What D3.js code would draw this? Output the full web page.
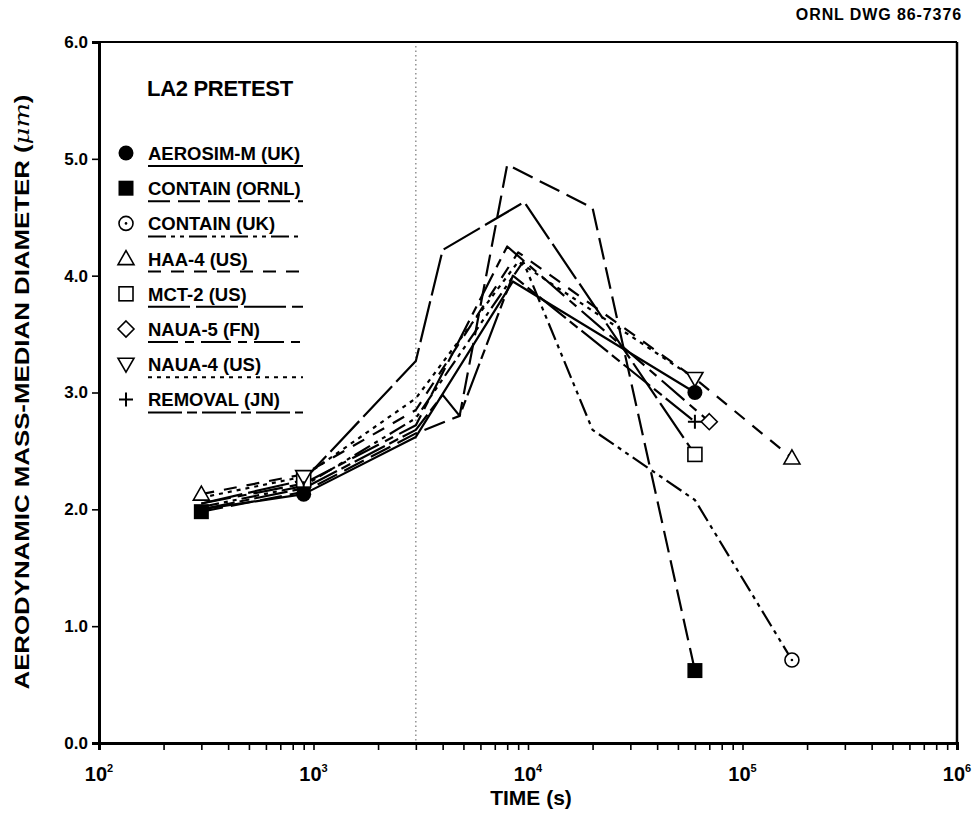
<!DOCTYPE html>
<html><head><meta charset="utf-8">
<script src="https://cdn.jsdelivr.net/npm/d3@7"></script>
<style>
body{margin:0;background:#fff;}
svg{display:block;font-family:"Liberation Sans",Arial,sans-serif;font-weight:bold;}
</style></head>
<body><svg id="c" width="975" height="816"></svg>
<script>
// ---- data ----
const seriesNames = ["AEROSIM-M (UK)","CONTAIN (ORNL)","CONTAIN (UK)","HAA-4 (US)","MCT-2 (US)","NAUA-5 (FN)","NAUA-4 (US)","REMOVAL (JN)"];
const aerosimT  = [300, 900, 3000, 8500, 60000];
const aerosimV  = [2.0, 2.13, 2.62, 3.95, 3.0];
const containOrnlT = [300, 900, 3000, 4800, 8000, 20000, 60000];
const containOrnlV = [1.98, 2.15, 2.65, 2.8, 4.95, 4.58, 0.62];
const containUkT = [300, 900, 3000, 9500, 20000, 60000, 170000];
const containUkV = [2.02, 2.2, 2.78, 4.12, 2.68, 2.08, 0.71];
const haaT = [300, 900, 3000, 9000, 60000, 170000];
const haaV = [2.13, 2.3, 2.85, 4.2, 3.12, 2.44];
const mctT = [300, 900, 3000, 4000, 9600, 60000];
const mctV = [2.05, 2.25, 3.27, 4.22, 4.63, 2.47];
const naua5T = [300, 900, 3000, 8000, 70000];
const naua5V = [2.05, 2.22, 2.72, 4.25, 2.75];
const naua4T = [300, 900, 3000, 9000, 60000];
const naua4V = [2.1, 2.28, 2.95, 4.12, 3.12];
const removalT = [300, 900, 3000, 4000, 4800, 8500, 60000];
const removalV = [2.0, 2.18, 2.68, 2.98, 2.8, 4.0, 2.75];
// indices of points that carry a marker
const markerIdx = [[1,4],[0,6],[6],[0,5],[1,5],[4],[1,4],[1,6]];
const yTicks = [0,1,2,3,4,5,6];
const xDecades = [2,3,4,5,6];
const refTime = 3000;

// ---- styles ----
const dashes = ["", "22,8", "18,5,4,5,4,5", "13,10", "42,6", "30,7,9,7", "4,5", "34,5,10,5"];
const markerTypes = ["fcircle","fsquare","ocircle","triangle","osquare","diamond","itriangle","plus"];

const svg = d3.select("#c");
const L=99, R=957, T=42, B=743;
const x = d3.scaleLog().domain([100,1e6]).range([L,R]);
const y = d3.scaleLinear().domain([0,6]).range([B,T]);

const allT=[aerosimT,containOrnlT,containUkT,haaT,mctT,naua5T,naua4T,removalT];
const allV=[aerosimV,containOrnlV,containUkV,haaV,mctV,naua5V,naua4V,removalV];

// dotted reference line
svg.append("line").attr("x1",x(refTime)).attr("x2",x(refTime)).attr("y1",T+4).attr("y2",B)
  .attr("stroke","#777").attr("stroke-width",1.2).attr("stroke-dasharray","1.5,3");

// frame
svg.append("line").attr("x1",L).attr("x2",R).attr("y1",T).attr("y2",T).attr("stroke","#000").attr("stroke-width",2);
svg.append("line").attr("x1",R).attr("x2",R).attr("y1",T).attr("y2",B).attr("stroke","#000").attr("stroke-width",2.5);

// axes
const xTickVals=[];
xDecades.forEach((d,i)=>{ if(i<xDecades.length-1){ for(let k=1;k<10;k++) xTickVals.push(k*Math.pow(10,d)); } else xTickVals.push(Math.pow(10,d)); });
const gx = svg.append("g").attr("transform",`translate(0,${B})`)
  .call(d3.axisBottom(x).tickValues(xTickVals).tickSize(7).tickFormat(""));
gx.select(".domain").attr("stroke-width",3);
gx.selectAll(".tick line").attr("stroke-width",1.6);

const gy = svg.append("g").attr("transform",`translate(${L},0)`)
  .call(d3.axisLeft(y).tickValues(yTicks).tickSize(7).tickFormat(d=>d.toFixed(1)).tickPadding(4));
gy.select(".domain").attr("stroke-width",3);
gy.selectAll(".tick line").attr("stroke-width",1.6);
gy.selectAll(".tick text").attr("font-family","Liberation Sans, Arial, sans-serif").attr("font-weight","bold").attr("font-size",17).attr("fill","#000");

// x tick labels with superscripts
xDecades.forEach(d=>{
  const t = svg.append("text").attr("x",x(Math.pow(10,d))).attr("y",781).attr("text-anchor","middle").attr("font-size",20);
  t.append("tspan").text("10");
  t.append("tspan").attr("dy",-9).attr("font-size",11).text(d);
});

// axis titles
svg.append("text").attr("x",(L+R)/2+3).attr("y",805).attr("text-anchor","middle").attr("font-size",21).text("TIME (s)");
const yl = svg.append("text").attr("transform","translate(29,392) rotate(-90)").attr("text-anchor","middle")
  .attr("font-size",20).attr("textLength",595).attr("lengthAdjust","spacingAndGlyphs");
yl.append("tspan").text("AERODYNAMIC MASS-MEDIAN DIAMETER (");
yl.append("tspan").attr("font-family","DejaVu Serif, serif").attr("font-style","italic").attr("font-weight","normal").text("μm");
yl.append("tspan").text(")");

svg.append("text").attr("x",962).attr("y",20).attr("text-anchor","end").attr("font-size",16).attr("letter-spacing",0.9).text("ORNL DWG 86-7376");

// lines
const line = d3.line().x(d=>x(d[0])).y(d=>y(d[1]));
function drawMarker(g,type,cx,cy){
  const s=7;
  switch(type){
    case "fcircle": g.append("circle").attr("cx",cx).attr("cy",cy).attr("r",7.5).attr("fill","#000"); break;
    case "fsquare": g.append("rect").attr("x",cx-7.5).attr("y",cy-7.5).attr("width",15).attr("height",15).attr("fill","#000"); break;
    case "ocircle": g.append("circle").attr("cx",cx).attr("cy",cy).attr("r",7).attr("fill","#fff").attr("stroke","#000").attr("stroke-width",1.6);
                    g.append("circle").attr("cx",cx).attr("cy",cy).attr("r",1.3).attr("fill","#000"); break;
    case "triangle": g.append("path").attr("d",`M${cx},${cy-8}L${cx+8},${cy+6}L${cx-8},${cy+6}Z`).attr("fill","#fff").attr("stroke","#000").attr("stroke-width",1.6); break;
    case "osquare": g.append("rect").attr("x",cx-s).attr("y",cy-s).attr("width",2*s).attr("height",2*s).attr("fill","#fff").attr("stroke","#000").attr("stroke-width",1.6); break;
    case "diamond": g.append("path").attr("d",`M${cx},${cy-8}L${cx+8},${cy}L${cx},${cy+8}L${cx-8},${cy}Z`).attr("fill","#fff").attr("stroke","#000").attr("stroke-width",1.6); break;
    case "itriangle": g.append("path").attr("d",`M${cx},${cy+8}L${cx+8},${cy-6}L${cx-8},${cy-6}Z`).attr("fill","#fff").attr("stroke","#000").attr("stroke-width",1.6); break;
    case "plus": g.append("path").attr("d",`M${cx-7},${cy}H${cx+7}M${cx},${cy-7}V${cy+7}`).attr("stroke","#000").attr("stroke-width",2); break;
  }
}
const gl = svg.append("g");
allT.forEach((ts,i)=>{
  const pts = ts.map((t,j)=>[t,allV[i][j]]);
  gl.append("path").attr("d",line(pts)).attr("fill","none").attr("stroke","#000").attr("stroke-width",2.2)
    .attr("stroke-dasharray",dashes[i]||null).attr("stroke-linejoin","round");
});
const gm = svg.append("g");
allT.forEach((ts,i)=>{
  markerIdx[i].forEach(j=>drawMarker(gm,markerTypes[i],x(ts[j]),y(allV[i][j])));
});

// legend
svg.append("text").attr("x",147).attr("y",96).attr("font-size",22).attr("letter-spacing",-0.3).text("LA2 PRETEST");
seriesNames.forEach((n,i)=>{
  const by = 160 + i*35.2;
  drawMarker(svg,markerTypes[i],126,by-7);
  svg.append("text").attr("x",148).attr("y",by).attr("font-size",18.5).text(n);
  svg.append("line").attr("x1",148).attr("x2",303).attr("y1",by+6).attr("y2",by+6)
    .attr("stroke","#000").attr("stroke-width",2).attr("stroke-dasharray",dashes[i]||null);
});
</script></body></html>
